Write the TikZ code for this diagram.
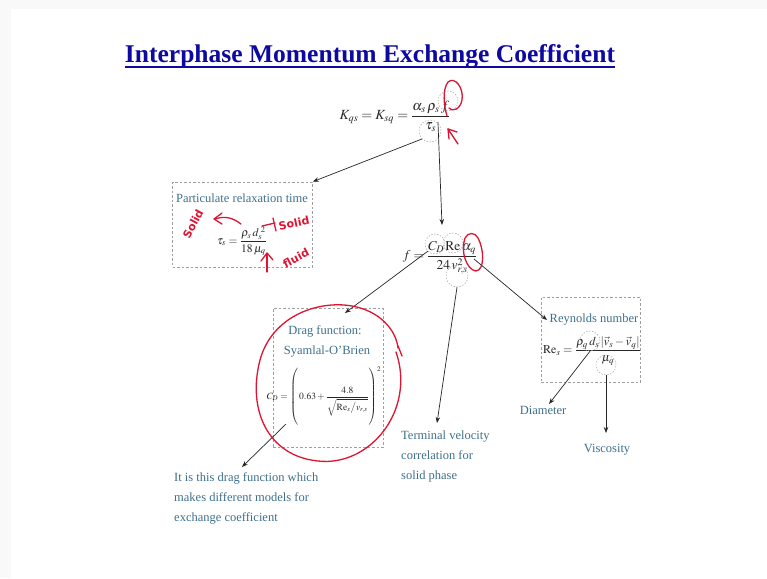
\documentclass[tikz,border=0pt]{standalone}
\usepackage{amsmath}
\usepackage{mathptmx}
\usepackage[no-math]{fontspec}
\setmainfont{Liberation Serif}
\newfontfamily\handfont{DejaVu Sans}
\usetikzlibrary{arrows.meta}
\definecolor{titleblue}{RGB}{14,10,160}
\definecolor{txtblue}{RGB}{62,112,140}
\definecolor{redpen}{RGB}{222,20,50}
\definecolor{eqgray}{RGB}{40,40,40}
\tikzset{
  dbox/.style={draw=gray!75, dashed, dash pattern=on 2.5pt off 2pt, line width=0.7pt, inner sep=0pt},
  dcirc/.style={circle, draw=gray!70, dash pattern=on 1.5pt off 1.5pt, line width=0.5pt, inner sep=0pt},
  lbl/.style={text=txtblue, font=\fontsize{12.5}{20}\selectfont, inner sep=0pt},
  eq/.style={text=eqgray, inner sep=0pt},
  arr/.style={-{Stealth[length=6pt,width=4.5pt]}, line width=0.7pt, black!85},
  pen/.style={draw=redpen, line width=1.3pt, line cap=round, line join=round},
  handtxt/.style={text=redpen, font=\handfont\fontsize{11}{12}\selectfont\bfseries, inner sep=0pt}
}
\begin{document}
\begin{tikzpicture}[x=1pt,y=-1pt]
\useasboundingbox (0,0) rectangle (767,578);
\fill[gray!5] (0,0) rectangle (767,578);
\fill[white] (11,9) rectangle (767,578);

% title
\node[text=titleblue, inner sep=0pt, anchor=base] (title) at (370,62)
  {\resizebox{490pt}{!}{\bfseries Interphase Momentum Exchange Coefficient}};
\draw[titleblue, line width=1.4pt] (title.south west |- 0,67) -- (title.south east |- 0,67);

% main equation
\node[eq, font=\fontsize{14}{16}\selectfont] (eqK) at (395,116)
  {$K_{qs}=K_{sq}=\dfrac{\alpha_s\,\rho_s\, f}{\tau_s}$};
\node[dcirc, minimum size=20pt] (cf) at (448,101) {};
\node[dcirc, minimum size=22pt] (ctau) at (430,131) {};

% relaxation time box
\node[dbox, minimum width=140pt, minimum height=85pt] (box1) at (242.5,224.5) {};
\node[lbl] (t1) at (242,198) {Particulate relaxation time};
\node[eq, font=\fontsize{11.5}{13}\selectfont] (eqtau) at (242,241)
  {$\tau_s=\dfrac{\rho_s\, d_s^{\;2}}{18\,\mu_q}$};

% f equation
\node[eq, font=\fontsize{13.5}{15}\selectfont] (eqf) at (440,258)
  {$f=\dfrac{C_D\,\mathrm{Re}\,\alpha_q}{24\,v_{r,s}^{2}}$};
\node[dcirc, minimum size=20pt] (cCD) at (435,244) {};
\node[dcirc, minimum size=20pt] (cRe) at (453,243) {};
\node[dcirc, minimum size=22pt] (cv) at (457,276) {};
\coordinate (calpha) at (474,259);

% drag function box
\node[dbox, minimum width=110pt, minimum height=139pt] (box2) at (328,377.5) {};
\node[lbl] (t2a) at (325,331) {Drag function:};
\node[lbl] (t2b) at (327,352) {Syamlal-O’Brien};
\node[eq, font=\fontsize{9.5}{11}\selectfont] (eqCD) at (324,397)
  {$C_D=\left(\vrule height 30pt depth 28pt width 0pt\,0.63+\dfrac{4.8}{\sqrt{\mathrm{Re}_s\big/v_{r,s}}}\right)^{2}$};
\coordinate (dragpt) at (286,424);

% Reynolds box
\node[dbox, minimum width=99pt, minimum height=85pt] (box3) at (590.5,339.5) {};
\node[lbl] (t3) at (594,320) {Reynolds number};
\node[eq, font=\fontsize{12}{14}\selectfont] (eqRe) at (592,351)
  {$\mathrm{Re}_s=\dfrac{\rho_q\, d_s\,|\vec v_s-\vec v_q|}{\mu_q}$};
\node[dcirc, minimum size=20pt] (cd) at (590,341) {};
\node[dcirc, minimum size=20pt] (cmu) at (606,365) {};

% labels
\node[lbl, anchor=north west, align=left] (t4) at (174,472)
  {It is this drag function which\\makes different models for\\exchange coefficient};
\node[lbl, anchor=north west, align=left] (t5) at (401,431)
  {Terminal velocity\\correlation for\\solid phase};
\node[lbl] (t6) at (543,410) {Diameter};
\node[lbl] (t7) at (607,450) {Viscosity};

% connectors
\draw[arr] (ctau.south west) -- (box1.north east);
\draw[arr] (ctau.north east |- 0,122) -- (442,225);
\draw[arr] (cCD.south west) -- (345,313);
\draw[arr] (cv.south) -- (437,423);
\draw[arr] (calpha) -- (547,320);
\draw[arr] (dragpt) -- (242,467);
\draw[arr] (cd.south) -- (549,404);
\draw[arr] (cmu.south) -- (606,433);

% red pen annotations
\draw[pen] (447,116) .. controls (444,106) and (442,90) .. (448,82)
  .. controls (455,76) and (464,88) .. (462,100)
  .. controls (460,110) and (452,112) .. (449,108);
\draw[pen] (458,144) -- (448,129) -- (449,139);
\draw[pen] (448,129) -- (457,132);
\draw[pen] (465,238) .. controls (460,252) and (467,270) .. (476,271)
  .. controls (485,270) and (484,249) .. (478,238)
  .. controls (475,232) and (468,232) .. (465,238);
\draw[pen] (396,352) .. controls (416,410) and (370,467) .. (318,461)
  .. controls (268,456) and (247,410) .. (260,360)
  .. controls (272,316) and (318,300) .. (352,306)
  .. controls (380,311) and (396,330) .. (398,348);
\draw[pen] (398,346) -- (402,356);
% "Solid" + arrow
\node[handtxt, rotate=62] (hs1) at (193,224) {Solid};
\draw[pen] (241,224) .. controls (232,217) and (224,216) .. (215,219);
\draw[pen] (222,213) -- (214,219) -- (222,224);
% right "Solid"
\draw[pen] (262,226) -- (275,223);
\draw[pen] (273,218) -- (276,231);
\node[handtxt, rotate=12] (hs2) at (294,223) {Solid};
% fluid
\draw[pen] (267,272) -- (267,254);
\draw[pen] (261,261) -- (267,253) -- (273,260);
\node[handtxt, rotate=28] (hf) at (296,258) {fluid};
\end{tikzpicture}
\end{document}
